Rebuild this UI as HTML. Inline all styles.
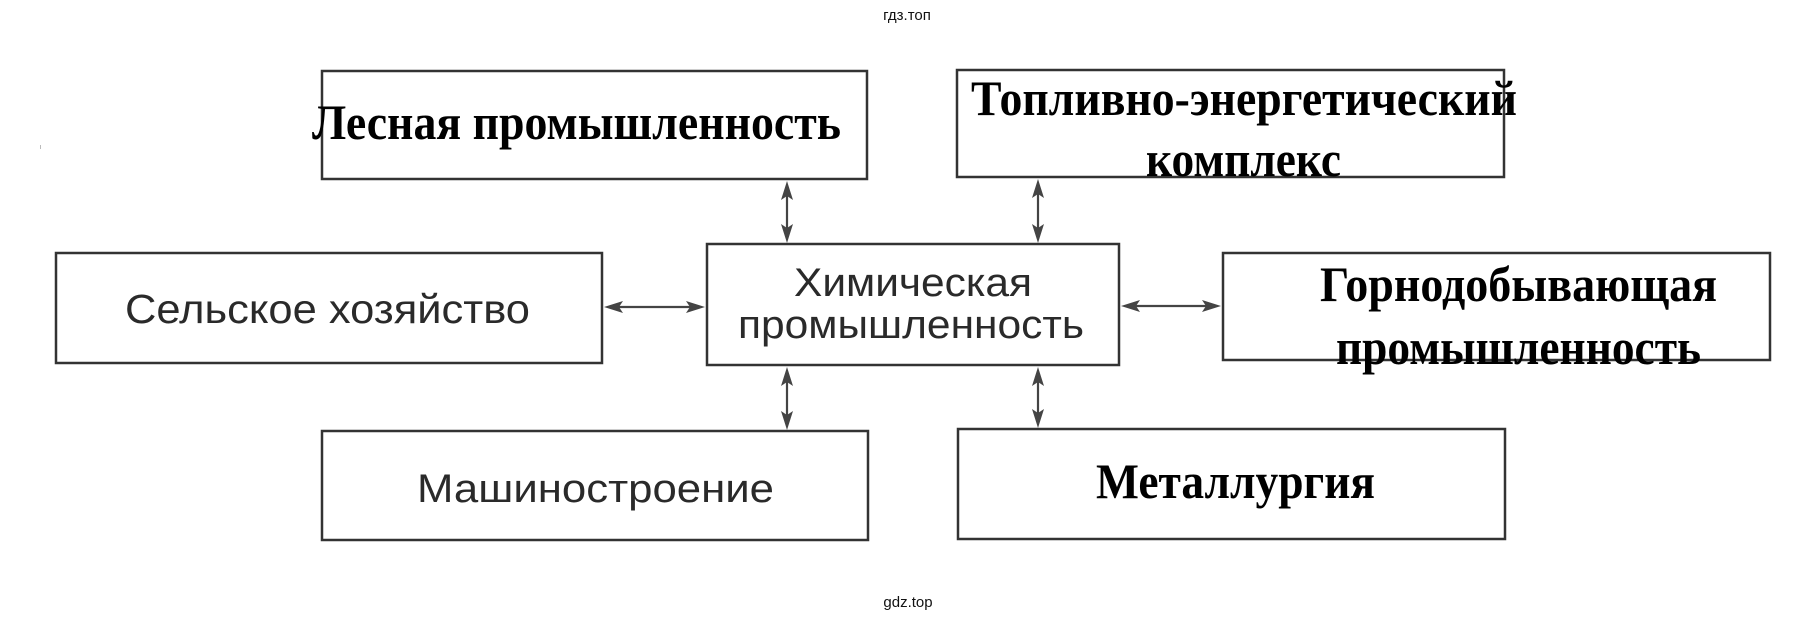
<!DOCTYPE html>
<html>
<head>
<meta charset="utf-8">
<style>
  html,body{margin:0;padding:0;background:#fff;}
  svg{display:block;}
  .serif{font-family:"Liberation Serif","Noto Serif CJK SC",serif;font-weight:bold;font-size:50px;fill:#000;}
  .sans{font-family:"Liberation Sans","Noto Sans CJK SC",sans-serif;font-size:40px;fill:#2a2a2a;}
  .wm{font-family:"Liberation Sans","Noto Sans CJK SC",sans-serif;font-size:15px;fill:#111;}
  .box{fill:none;stroke:#333;stroke-width:2.5;}
  .ln{stroke:#444;stroke-width:2.2;}
  .hd{fill:#444;}
</style>
</head>
<body>
<svg width="1819" height="625" viewBox="0 0 1819 625" xmlns="http://www.w3.org/2000/svg">
  <rect x="0" y="0" width="1819" height="625" fill="#fff"/>

  <!-- watermarks -->
  <text class="wm" x="907" y="20" text-anchor="middle">гдз.топ</text>
  <text class="wm" x="908" y="607" text-anchor="middle">gdz.top</text>
  <rect x="40" y="145" width="1" height="4" fill="#bbb"/>

  <!-- boxes -->
  <rect class="box" x="322" y="71" width="545" height="108"/>
  <rect class="box" x="957" y="70" width="547" height="107"/>
  <rect class="box" x="56" y="253" width="546" height="110"/>
  <rect class="box" x="707" y="244" width="412" height="121"/>
  <rect class="box" x="1223" y="253" width="547" height="107"/>
  <rect class="box" x="322" y="431" width="546" height="109"/>
  <rect class="box" x="958" y="429" width="547" height="110"/>

  <!-- arrows: vertical x=787 top -->
  <line class="ln" x1="787" y1="186" x2="787" y2="238"/>
  <polygon class="hd" points="787,181 781,200 787,196 793,200"/>
  <polygon class="hd" points="787,243 781,224 787,228 793,224"/>
  <!-- vertical x=1038 top -->
  <line class="ln" x1="1038" y1="184" x2="1038" y2="238"/>
  <polygon class="hd" points="1038,179 1032,198 1038,194 1044,198"/>
  <polygon class="hd" points="1038,243 1032,224 1038,228 1044,224"/>
  <!-- vertical x=787 bottom -->
  <line class="ln" x1="787" y1="372" x2="787" y2="425"/>
  <polygon class="hd" points="787,367 781,386 787,382 793,386"/>
  <polygon class="hd" points="787,430 781,411 787,415 793,411"/>
  <!-- vertical x=1038 bottom -->
  <line class="ln" x1="1038" y1="372" x2="1038" y2="423"/>
  <polygon class="hd" points="1038,367 1032,386 1038,382 1044,386"/>
  <polygon class="hd" points="1038,428 1032,409 1038,413 1044,409"/>
  <!-- horizontal y=307 left -->
  <line class="ln" x1="609" y1="307" x2="700" y2="307"/>
  <polygon class="hd" points="604,307 623,301 619,307 623,313"/>
  <polygon class="hd" points="705,307 686,301 690,307 686,313"/>
  <!-- horizontal y=306 right -->
  <line class="ln" x1="1126" y1="306" x2="1216" y2="306"/>
  <polygon class="hd" points="1121,306 1140,300 1136,306 1140,312"/>
  <polygon class="hd" points="1221,306 1202,300 1206,306 1202,312"/>

  <!-- serif bold labels -->
  <text class="serif" x="312" y="139" textLength="529" lengthAdjust="spacingAndGlyphs">Лесная промышленность</text>
  <text class="serif" x="971" y="115" textLength="546" lengthAdjust="spacingAndGlyphs">Топливно-энергетический</text>
  <text class="serif" x="1146" y="176" textLength="195" lengthAdjust="spacingAndGlyphs">комплекс</text>
  <text class="serif" x="1320" y="301" textLength="397" lengthAdjust="spacingAndGlyphs">Горнодобывающая</text>
  <text class="serif" x="1336" y="364" textLength="365" lengthAdjust="spacingAndGlyphs">промышленность</text>
  <text class="serif" x="1096" y="498" textLength="279" lengthAdjust="spacingAndGlyphs">Металлургия</text>

  <!-- sans labels -->
  <text class="sans" style="font-size:41px" x="125" y="323" textLength="405" lengthAdjust="spacingAndGlyphs">Сельское хозяйство</text>
  <text class="sans" x="794" y="296" textLength="238" lengthAdjust="spacingAndGlyphs">Химическая</text>
  <text class="sans" x="738" y="338" textLength="346" lengthAdjust="spacingAndGlyphs">промышленность</text>
  <text class="sans" x="417" y="502" textLength="357" lengthAdjust="spacingAndGlyphs">Машиностроение</text>
</svg>
</body>
</html>
